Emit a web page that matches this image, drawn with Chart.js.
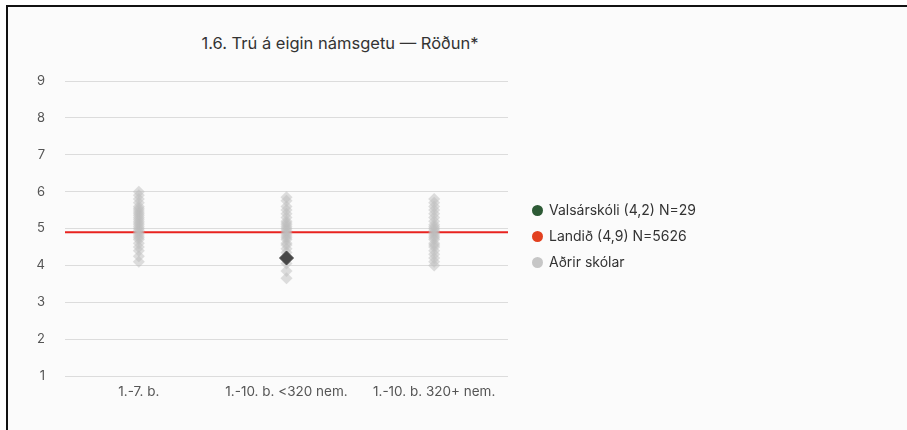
<!DOCTYPE html>
<html lang="is">
<head>
  <meta charset="UTF-8">
  <title>1.6. Trú á eigin námsgetu — Röðun*</title>
  <script src="https://cdn.jsdelivr.net/npm/chart.js@4.4.3/dist/chart.umd.min.js"></script>
  <style>
    html, body { margin: 0; padding: 0; background: #fff; }
    body { width: 907px; height: 430px; position: relative; overflow: hidden; font-family: Inter, 'Noto Sans', sans-serif; }
    .frame { position: absolute; left: 6px; top: 5px; width: 901px; height: 425px; border-top: 2px solid #111; border-left: 2px solid #111; background: #fbfbfb; }
    .title { position: absolute; left: 140px; width: 400px; top: 33px; text-align: center; font-size: 16.5px; color: #333; }
    .wrap { position: absolute; left: 0; top: 0; width: 907px; height: 430px; }
    .legend { position: absolute; left: 532px; top: 199px; font-size: 14px; color: #333; }
    .legend div { height: 26px; line-height: 22px; white-space: nowrap; }
    .legend span { display: inline-block; width: 11px; height: 11px; border-radius: 50%; margin-right: 6px; vertical-align: -1px; }
  </style>
</head>
<body>
  <div class="frame"></div>
  <div class="title">1.6. Trú á eigin námsgetu — Röðun*</div>
  <div class="wrap"><canvas id="chart"></canvas></div>
  <div class="legend" id="legend"></div>
  <script>
    // data
    const groups = ["1.-7. b.", "1.-10. b. <320 nem.", "1.-10. b. 320+ nem."];
    const otherSchools1 = [4.1, 4.25, 4.4, 4.5, 4.6, 4.7, 4.75, 4.8, 4.85, 4.9, 4.95, 5.0, 5.05, 5.1, 5.15, 5.2, 5.25, 5.3, 5.35, 5.4, 5.45, 5.5, 5.55, 5.6, 5.7, 5.8, 5.9, 6.0];
    const otherSchools2 = [3.65, 3.85, 4.05, 4.2, 4.35, 4.45, 4.55, 4.6, 4.7, 4.75, 4.8, 4.85, 4.9, 4.95, 5.0, 5.05, 5.1, 5.15, 5.2, 5.3, 5.4, 5.5, 5.6, 5.75, 5.85];
    const otherSchools3 = [4.0, 4.1, 4.2, 4.3, 4.4, 4.5, 4.55, 4.6, 4.7, 4.75, 4.8, 4.85, 4.9, 4.95, 5.0, 5.05, 5.1, 5.2, 5.3, 5.4, 5.5, 5.6, 5.7, 5.8];
    const schoolGroup = 1;      // Valsárskóli is in "1.-10. b. <320 nem."
    const schoolValue = 4.2;
    const countryValue = 4.9;
    const legendLabels = ["Valsárskóli (4,2) N=29", "Landið (4,9) N=5626", "Aðrir skólar"];
    const legendColors = ["#2d5a35", "#e2401f", "#c6c6c6"];

    const others = [otherSchools1, otherSchools2, otherSchools3];
    const otherPoints = [];
    others.forEach((vals, i) => vals.forEach(v => otherPoints.push({ x: i + 0.5, y: v })));

    const font = "Inter, 'Noto Sans', sans-serif";

    // legend as plain html, the chart legend clipped the first label
    document.getElementById("legend").innerHTML = legendLabels
      .map((t, i) => `<div><span style="background:${legendColors[i]}"></span>${t}</div>`)
      .join("");

    new Chart(document.getElementById("chart"), {
      type: "scatter",
      data: {
        datasets: [
          {
            label: legendLabels[0],
            data: [{ x: schoolGroup + 0.5, y: schoolValue }],
            pointStyle: "rectRot",
            pointRadius: 7,
            backgroundColor: "#474747",
            borderColor: "#474747",
            order: 0
          },
          {
            label: legendLabels[2],
            data: otherPoints,
            pointStyle: "rectRot",
            pointRadius: 6,
            backgroundColor: "rgba(190,190,190,0.5)",
            borderWidth: 0,
            order: 1
          },
          {
            type: "line",
            label: legendLabels[1],
            data: [{ x: 0, y: countryValue }, { x: groups.length, y: countryValue }],
            borderColor: "#e8231f",
            borderWidth: 2,
            pointRadius: 0,
            order: 2
          }
        ]
      },
      options: {
        responsive: true,
        maintainAspectRatio: false,
        animation: false,
        layout: { padding: { left: 20, top: 81, right: 399, bottom: 30 } },
        plugins: {
          title: { display: false },
          tooltip: { enabled: false },
          legend: { display: false }
        },
        scales: {
          x: {
            type: "linear",
            min: 0,
            max: groups.length,
            grid: { display: false },
            border: { display: false },
            afterBuildTicks: axis => { axis.ticks = groups.map((g, i) => ({ value: i + 0.5 })); },
            ticks: {
              autoSkip: false,
              maxRotation: 0,
              padding: 0,
              color: "#555",
              font: { family: font, size: 13.5 },
              callback: v => groups[Math.floor(v)]
            },
            afterFit: axis => { axis.height = 24; }
          },
          y: {
            min: 1,
            max: 9,
            grid: { color: "#dcdcdc", drawTicks: false, lineWidth: 1 },
            border: { display: false },
            ticks: {
              stepSize: 1,
              padding: 20,
              color: "#555",
              font: { family: font, size: 13 }
            },
            afterFit: axis => { axis.width = 45; }
          }
        }
      }
    });
  </script>
</body>
</html>
